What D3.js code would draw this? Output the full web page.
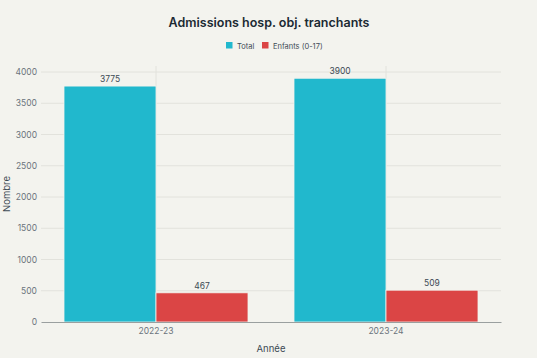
<!DOCTYPE html>
<html>
<head>
<meta charset="utf-8">
<script src="https://cdn.jsdelivr.net/npm/d3@7"></script>
<style>
  body { margin: 0; background: #f3f3ee; }
  svg { display: block; font-family: Inter, "Noto Sans", sans-serif; }
</style>
</head>
<body>
<div id="chart"></div>
<script>
const years = ["2022-23", "2023-24"];
const seriesNames = ["Total", "Enfants (0-17)"];
const totalVals = [3775, 3900];
const enfantsVals = [467, 509];
const seriesColors = ["#21b8cd", "#db4545"];
const yTicks = [0, 500, 1000, 1500, 2000, 2500, 3000, 3500, 4000];

const W = 537, H = 358, m = { l: 41, r: 36, t: 72, b: 36 };
const svg = d3.select("#chart").append("svg").attr("width", W).attr("height", H);
svg.append("rect").attr("width", W).attr("height", H).attr("fill", "#f3f3ee");

const x = d3.scaleBand().domain(years).range([m.l, W - m.r]).paddingInner(0).paddingOuter(0);
const xs = d3.scaleBand().domain(seriesNames).range([0, x.bandwidth()]).paddingInner(0).paddingOuter(0.25);
const y = d3.scaleLinear().domain([0, 4000]).range([H - m.b, m.t]);

// grid
svg.append("g").selectAll("line").data(yTicks.filter(d => d > 0)).join("line")
  .attr("x1", m.l).attr("x2", W - m.r).attr("y1", d => y(d)).attr("y2", d => y(d))
  .attr("stroke", "#e2e2dc").attr("stroke-width", 1);
svg.append("g").selectAll("line").data(years).join("line")
  .attr("x1", d => x(d) + x.bandwidth() / 2).attr("x2", d => x(d) + x.bandwidth() / 2)
  .attr("y1", m.t - 6).attr("y2", H - m.b)
  .attr("stroke", "#e2e2dc").attr("stroke-width", 1);

const rows = years.map((yr, i) => ({ yr, vals: [totalVals[i], enfantsVals[i]] }));
const g = svg.append("g").selectAll("g").data(rows).join("g")
  .attr("transform", d => `translate(${x(d.yr)},0)`);
const bars = g.selectAll("g").data(d => d.vals.map((v, k) => ({ v, s: seriesNames[k], k }))).join("g");
bars.append("rect")
  .attr("x", d => xs(d.s)).attr("width", xs.bandwidth())
  .attr("y", d => y(d.v)).attr("height", d => y(0) - y(d.v))
  .attr("fill", d => seriesColors[d.k]).attr("stroke", "#f3f3ee").attr("stroke-width", 0.8);
bars.append("text")
  .attr("x", d => xs(d.s) + xs.bandwidth() / 2).attr("y", d => y(d.v) - 4)
  .attr("text-anchor", "middle").attr("font-size", 8.5).attr("fill", "#3d4a55")
  .text(d => d.v);

// axes
const yAxis = svg.append("g").attr("transform", `translate(${m.l},0)`)
  .call(d3.axisLeft(y).tickValues(yTicks).tickFormat(d3.format("d")).tickSize(0).tickPadding(4));
yAxis.select(".domain").remove();
yAxis.selectAll("text").attr("font-size", 8.5).attr("fill", "#6b747c").attr("font-family", "Inter, sans-serif");

const xAxis = svg.append("g").attr("transform", `translate(0,${H - m.b})`)
  .call(d3.axisBottom(x).tickSize(0).tickPadding(6));
xAxis.select(".domain").attr("stroke", "#9a9f9f").attr("stroke-width", 1.2);
xAxis.selectAll("text").attr("font-size", 8.5).attr("fill", "#6b747c").attr("font-family", "Inter, sans-serif");

// title
svg.append("text").attr("x", 269).attr("y", 27).attr("text-anchor", "middle")
  .attr("font-size", 12.5).attr("font-weight", 600).attr("fill", "#1b2a33")
  .text("Admissions hosp. obj. tranchants");

// legend
const leg = svg.append("g").attr("transform", "translate(226,46)");
const legX = [0, 36];
seriesNames.forEach((s, k) => {
  leg.append("rect").attr("x", legX[k]).attr("y", -4).attr("width", 6.5).attr("height", 6.5)
    .attr("fill", seriesColors[k]);
  leg.append("text").attr("x", legX[k] + 11).attr("y", 2.5).attr("font-size", 7.5)
    .attr("fill", "#3d4a55").text(s);
});

// axis titles
svg.append("text").attr("x", 271).attr("y", 352).attr("text-anchor", "middle")
  .attr("font-size", 9.5).attr("fill", "#3d4a55").text("Année");
svg.append("text").attr("transform", "translate(10,194) rotate(-90)").attr("text-anchor", "middle")
  .attr("font-size", 9.5).attr("fill", "#3d4a55").text("Nombre");
</script>
</body>
</html>
